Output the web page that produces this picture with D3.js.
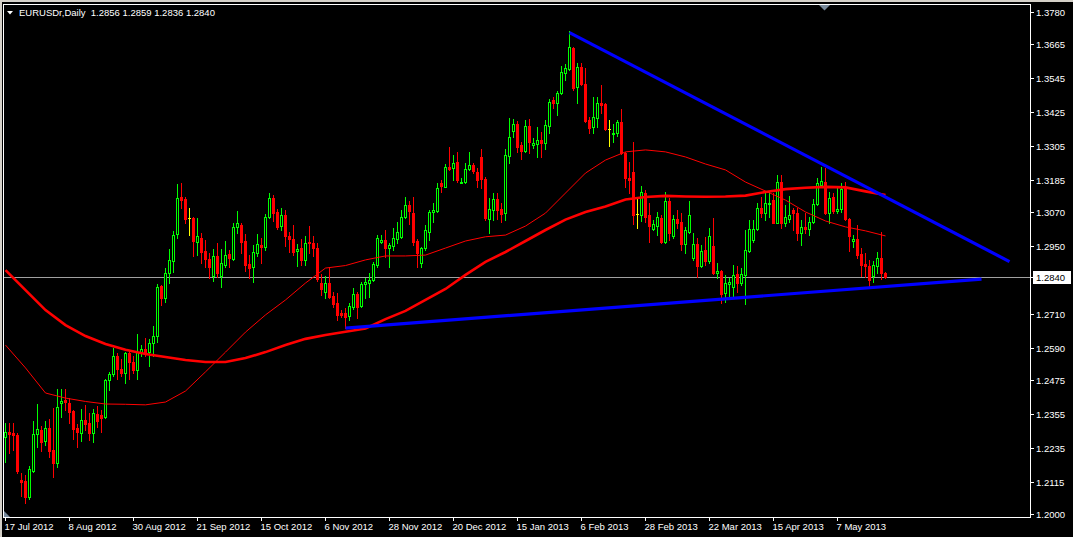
<!DOCTYPE html>
<html><head><meta charset="utf-8">
<script src="https://cdn.jsdelivr.net/npm/d3@7/dist/d3.min.js"></script>
<style>
html,body{margin:0;padding:0;background:#000;}
svg{display:block;}
text{font-family:"Liberation Sans",Arial,sans-serif;}
</style></head>
<body>
<svg id="chart" width="1073" height="537"></svg>
<script>
// ---------- DATA ----------
const symbolTitle = "EURUSDr,Daily";
const openPrices = [1.2272,1.2292,1.2286,1.2280,1.2121,1.2117,1.2061,1.2154,1.2283,1.2298,1.2259,1.2304,1.2227,1.2180,1.2395,1.2404,1.2395,1.2365,1.2304,1.2288,1.2332,1.2322,1.2288,1.2355,1.2351,1.2345,1.2475,1.2495,1.2560,1.2515,1.2500,1.2570,1.2540,1.2510,1.2575,1.2585,1.2575,1.2605,1.2630,1.2809,1.2765,1.2854,1.2898,1.2992,1.3123,1.3116,1.3048,1.3048,1.2966,1.2978,1.2933,1.2903,1.2844,1.2915,1.2844,1.2883,1.2922,1.2903,1.3019,1.3025,1.2968,1.2885,1.2875,1.2927,1.2954,1.2946,1.3054,1.3120,1.3072,1.3021,1.3060,1.2986,1.2975,1.2933,1.2942,1.2901,1.2966,1.2962,1.2942,1.2818,1.2788,1.2818,1.2773,1.2747,1.2712,1.2712,1.2703,1.2735,1.2780,1.2738,1.2816,1.2818,1.2830,1.2883,1.2966,1.2972,1.2944,1.2950,1.2974,1.2983,1.3054,1.3095,1.3066,1.2969,1.2889,1.2942,1.3001,1.3072,1.3076,1.3173,1.3161,1.3232,1.3226,1.3249,1.3173,1.3178,1.3222,1.3238,1.3214,1.3267,1.3187,1.3047,1.3078,1.3117,1.3080,1.3066,1.3270,1.3359,1.3383,1.3309,1.3288,1.3376,1.3309,1.3312,1.3326,1.3317,1.3376,1.3468,1.3456,1.3492,1.3565,1.3577,1.3651,1.3515,1.3584,1.3525,1.3397,1.3371,1.3405,1.3456,1.3454,1.3365,1.3348,1.3352,1.3389,1.3279,1.3190,1.3214,1.3063,1.3060,1.3137,1.3060,1.3011,1.3021,1.3049,1.2966,1.3111,1.2986,1.3045,1.3037,1.2957,1.3001,1.2907,1.2957,1.2880,1.2936,1.2898,1.2950,1.2854,1.2862,1.2783,1.2815,1.2806,1.2851,1.2820,1.2848,1.2934,1.2972,1.3010,1.3084,1.3068,1.3099,1.3113,1.3033,1.3178,1.3031,1.3045,1.3078,1.3066,1.2996,1.3017,1.3010,1.3037,1.3099,1.3167,1.3178,1.3066,1.3125,1.3076,1.3080,1.3161,1.3045,1.2969,1.2974,1.2921,1.2887,1.2879,1.2844,1.2879,1.2907,1.2856];
const highPrices = [1.2322,1.2322,1.2324,1.2286,1.2144,1.2138,1.2170,1.2330,1.2390,1.2312,1.2330,1.2336,1.2375,1.2442,1.2442,1.2442,1.2410,1.2369,1.2319,1.2371,1.2387,1.2357,1.2371,1.2383,1.2369,1.2480,1.2505,1.2590,1.2570,1.2550,1.2575,1.2580,1.2560,1.2640,1.2600,1.2625,1.2620,1.2665,1.2815,1.2812,1.2871,1.2940,1.3004,1.3170,1.3173,1.3123,1.3084,1.3054,1.3048,1.2998,1.2972,1.2924,1.2940,1.2960,1.2940,1.2968,1.2936,1.3033,1.3074,1.3033,1.2993,1.2918,1.2954,1.2993,1.2978,1.3063,1.3139,1.3131,1.3080,1.3084,1.3078,1.3001,1.3025,1.2957,1.2975,1.2986,1.3021,1.2986,1.2962,1.2850,1.2844,1.2877,1.2788,1.2783,1.2723,1.2729,1.2749,1.2800,1.2788,1.2824,1.2836,1.2854,1.2895,1.2989,1.2989,1.3007,1.2960,1.3013,1.3037,1.3078,1.3125,1.3110,1.3125,1.2975,1.2948,1.3025,1.3078,1.3103,1.3173,1.3184,1.3241,1.3300,1.3273,1.3284,1.3190,1.3246,1.3285,1.3244,1.3226,1.3293,1.3196,1.3120,1.3137,1.3137,1.3102,1.3293,1.3403,1.3400,1.3395,1.3320,1.3397,1.3400,1.3332,1.3371,1.3356,1.3397,1.3471,1.3478,1.3501,1.3589,1.3596,1.3711,1.3657,1.3600,1.3600,1.3581,1.3409,1.3478,1.3478,1.3521,1.3456,1.3397,1.3383,1.3397,1.3435,1.3285,1.3249,1.3320,1.3125,1.3163,1.3149,1.3102,1.3043,1.3072,1.3060,1.3143,1.3120,1.3060,1.3078,1.3066,1.3019,1.3111,1.2995,1.2978,1.2954,1.2981,1.3013,1.3049,1.2891,1.2865,1.2848,1.2836,1.2883,1.2879,1.2871,1.3007,1.3043,1.3043,1.3102,1.3125,1.3137,1.3143,1.3137,1.3202,1.3202,1.3096,1.3128,1.3084,1.3084,1.3043,1.3066,1.3054,1.3116,1.3190,1.3232,1.3226,1.3143,1.3137,1.3155,1.3173,1.3176,1.3049,1.2989,1.3025,1.2942,1.2927,1.2901,1.2898,1.2930,1.3001,1.2859];
const lowPrices = [1.2185,1.2215,1.2227,1.2144,1.2064,1.2040,1.2052,1.2150,1.2239,1.2224,1.2245,1.2201,1.2132,1.2166,1.2343,1.2369,1.2324,1.2265,1.2239,1.2260,1.2298,1.2262,1.2256,1.2310,1.2292,1.2340,1.2440,1.2490,1.2480,1.2490,1.2466,1.2480,1.2500,1.2480,1.2560,1.2560,1.2525,1.2560,1.2610,1.2740,1.2750,1.2818,1.2859,1.2980,1.3084,1.3031,1.2989,1.2916,1.2918,1.2891,1.2877,1.2836,1.2827,1.2841,1.2804,1.2877,1.2877,1.2901,1.2995,1.2924,1.2862,1.2836,1.2824,1.2915,1.2891,1.2936,1.3049,1.3040,1.3010,1.3007,1.2951,1.2930,1.2918,1.2879,1.2883,1.2883,1.2924,1.2916,1.2826,1.2775,1.2765,1.2765,1.2735,1.2688,1.2700,1.2659,1.2688,1.2726,1.2694,1.2735,1.2765,1.2770,1.2827,1.2877,1.2960,1.2912,1.2877,1.2936,1.2960,1.2978,1.3049,1.3030,1.2954,1.2877,1.2877,1.2936,1.2972,1.3037,1.3072,1.3143,1.3161,1.3220,1.3184,1.3178,1.3173,1.3173,1.3220,1.3208,1.3161,1.3155,1.3043,1.2998,1.3043,1.3046,1.3037,1.3043,1.3246,1.3336,1.3285,1.3258,1.3285,1.3281,1.3297,1.3267,1.3265,1.3293,1.3350,1.3439,1.3415,1.3489,1.3539,1.3574,1.3504,1.3459,1.3521,1.3391,1.3352,1.3352,1.3373,1.3421,1.3362,1.3305,1.3320,1.3340,1.3277,1.3161,1.3139,1.3028,1.3015,1.3039,1.3037,1.2966,1.3007,1.2989,1.2960,1.2960,1.2972,1.2978,1.3013,1.2936,1.2924,1.2995,1.2901,1.2841,1.2877,1.2883,1.2889,1.2851,1.2836,1.2749,1.2753,1.2771,1.2771,1.2788,1.2812,1.2745,1.2930,1.2966,1.3007,1.3054,1.3043,1.3054,1.3031,1.3031,1.3013,1.3022,1.3037,1.3007,1.2972,1.2954,1.2995,1.2989,1.3031,1.3096,1.3161,1.3064,1.3031,1.3066,1.3066,1.3072,1.3043,1.2934,1.2948,1.2907,1.2844,1.2841,1.2804,1.2824,1.2856,1.2832,1.2836];
const closePrices = [1.2292,1.2283,1.2281,1.2154,1.2115,1.2059,1.2159,1.2284,1.2300,1.2256,1.2304,1.2223,1.2180,1.2381,1.2401,1.2396,1.2363,1.2301,1.2292,1.2333,1.2320,1.2288,1.2357,1.2331,1.2341,1.2475,1.2495,1.2560,1.2515,1.2500,1.2570,1.2540,1.2510,1.2575,1.2585,1.2575,1.2605,1.2630,1.2806,1.2765,1.2854,1.2901,1.2989,1.3120,1.3113,1.3047,1.3048,1.2969,1.2986,1.2930,1.2903,1.2875,1.2915,1.2854,1.2889,1.2918,1.2907,1.3017,1.3031,1.2966,1.2883,1.2873,1.2928,1.2957,1.2947,1.3052,1.3120,1.3066,1.3019,1.3060,1.2987,1.2974,1.2930,1.2940,1.2901,1.2960,1.2960,1.2942,1.2832,1.2797,1.2818,1.2771,1.2745,1.2706,1.2706,1.2700,1.2738,1.2780,1.2735,1.2816,1.2824,1.2830,1.2885,1.2978,1.2972,1.2942,1.2954,1.2978,1.3001,1.3054,1.3096,1.3075,1.2966,1.2927,1.2942,1.3007,1.3072,1.3078,1.3155,1.3164,1.3229,1.3223,1.3244,1.3184,1.3178,1.3222,1.3237,1.3217,1.3184,1.3187,1.3050,1.3080,1.3117,1.3078,1.3064,1.3273,1.3336,1.3383,1.3303,1.3288,1.3376,1.3320,1.3317,1.3326,1.3317,1.3379,1.3462,1.3456,1.3492,1.3568,1.3580,1.3657,1.3510,1.3586,1.3524,1.3395,1.3368,1.3407,1.3456,1.3450,1.3364,1.3365,1.3350,1.3389,1.3279,1.3190,1.3184,1.3060,1.3063,1.3143,1.3054,1.3021,1.3028,1.3052,1.2966,1.3111,1.2998,1.3045,1.3033,1.2957,1.3007,1.3060,1.2957,1.2879,1.2934,1.2898,1.2986,1.2854,1.2862,1.2779,1.2818,1.2824,1.2848,1.2820,1.2851,1.2936,1.3010,1.3010,1.3084,1.3068,1.3102,1.3104,1.3033,1.3176,1.3031,1.3052,1.3060,1.3066,1.2998,1.3017,1.3010,1.3037,1.3099,1.3173,1.3181,1.3066,1.3120,1.3076,1.3080,1.3151,1.3045,1.2984,1.2974,1.2918,1.2883,1.2879,1.2830,1.2883,1.2907,1.2856,1.2840];

const maIndex = [0,5,10,15,20,25,30,35,40,45,50,55,60,65,70,75,80,85,90,95,100,105,110,115,120,125,130,135,140,145,150,155,160,165,170,175,180,185,190,195,200,205,210,215,220];
const maFast = [1.2599,1.2518,1.2429,1.2411,1.2399,1.2390,1.2389,1.2387,1.2397,1.2436,1.2504,1.2574,1.2645,1.2706,1.2759,1.2819,1.2872,1.2881,1.2901,1.2915,1.2915,1.2918,1.2943,1.2968,1.2983,1.2989,1.3021,1.3067,1.3138,1.3209,1.3255,1.3284,1.3291,1.3284,1.3266,1.3241,1.3220,1.3177,1.3145,1.3113,1.3071,1.3039,1.3018,1.3004,1.2986];
const maSlow = [1.2865,1.2794,1.2723,1.2670,1.2631,1.2603,1.2582,1.2567,1.2557,1.2546,1.2539,1.2539,1.2553,1.2574,1.2599,1.2621,1.2635,1.2646,1.2658,1.2691,1.2720,1.2759,1.2798,1.2848,1.2894,1.2929,1.2968,1.3007,1.3044,1.3071,1.3090,1.3115,1.3124,1.3128,1.3126,1.3125,1.3126,1.3129,1.3142,1.3152,1.3157,1.3160,1.3158,1.3144,1.3131];

// trend lines: [barIndex, price]
const trendUpper = [[141,1.3707],[251,1.2895]];
const trendLower = [[85,1.2659],[244,1.2833]];

const yTickValues = [1.3780,1.3665,1.3545,1.3425,1.3305,1.3185,1.3070,1.2950,1.2710,1.2590,1.2475,1.2355,1.2235,1.2115,1.2000];
const xTickIndex = [0,16,32,48,64,80,96,112,128,144,160,176,192,208];
const xTickLabels = ["17 Jul 2012","8 Aug 2012","30 Aug 2012","21 Sep 2012","15 Oct 2012","6 Nov 2012","28 Nov 2012","20 Dec 2012","15 Jan 2013","6 Feb 2013","28 Feb 2013","22 Mar 2013","15 Apr 2013","7 May 2013"];

// ---------- DRAW ----------
const svg = d3.select("#chart");
const W = 1073, H = 537;
const pL = 3, pR = 1030, pT = 4, pB = 517;

svg.append("rect").attr("width",W).attr("height",H).attr("fill","#000");
svg.append("rect").attr("x",0).attr("y",0).attr("width",W).attr("height",2).attr("fill","#d4d0c8");
svg.append("rect").attr("x",0).attr("y",0).attr("width",2).attr("height",H).attr("fill","#d4d0c8");

const x = d3.scaleLinear().domain([0, 256]).range([5, 5 + 4*256]);
const y = d3.scaleLinear().domain([1.2000, 1.3780]).range([514, 12]);

const plot = svg.append("g");
plot.append("clipPath").attr("id","clip").append("rect")
  .attr("x",pL+1).attr("y",pT+1).attr("width",pR-pL-1).attr("height",pB-pT-1);
const g = plot.append("g").attr("clip-path","url(#clip)").attr("shape-rendering","crispEdges");

const last = closePrices[closePrices.length-1];
g.append("line").attr("x1",pL).attr("x2",pR)
  .attr("y1",Math.round(y(last))+0.5).attr("y2",Math.round(y(last))+0.5)
  .attr("stroke","#a0a0a0").attr("stroke-width",1);

const bars = d3.range(openPrices.length).map(i => ({i, o:openPrices[i], h:highPrices[i], l:lowPrices[i], c:closePrices[i]}));
const cg = g.append("g");
bars.forEach(d => {
  const cx = Math.round(x(d.i));
  const doji = d.o === d.c;
  const bull = d.c > d.o;
  const col = doji ? "#ffff00" : (bull ? "#00ff00" : "#ff0000");
  const yh = Math.round(y(d.h)), yl = Math.round(y(d.l));
  cg.append("rect").attr("x",cx).attr("y",yh).attr("width",1).attr("height",Math.max(1,yl-yh+1)).attr("fill",col);
  const yt = Math.round(y(Math.max(d.o,d.c))), yb = Math.round(y(Math.min(d.o,d.c)));
  const hgt = Math.max(1, yb-yt+1);
  cg.append("rect").attr("x",cx-1).attr("y",yt).attr("width",3).attr("height",hgt).attr("fill",col);
  if (bull && hgt > 2) {
    cg.append("rect").attr("x",cx).attr("y",yt+1).attr("width",1).attr("height",hgt-2).attr("fill","#000");
  }
});

const line = d3.line().x(d => x(d[0]) + 0.5).y(d => y(d[1]));
const lg = plot.append("g").attr("clip-path","url(#clip)");
lg.append("path").datum(maIndex.map((k,j)=>[k,maSlow[j]]))
  .attr("d",line).attr("fill","none").attr("stroke","#ff0000").attr("stroke-width",2.6);
lg.append("path").datum(maIndex.map((k,j)=>[k,maFast[j]]))
  .attr("d",line).attr("fill","none").attr("stroke","#ff0000").attr("stroke-width",1);

[trendUpper, trendLower].forEach(t => {
  lg.append("path").datum(t).attr("d",line).attr("fill","none")
    .attr("stroke","#0000ff").attr("stroke-width",3.2);
});

svg.append("rect").attr("x",pL+0.5).attr("y",pT+0.5).attr("width",pR-pL).attr("height",pB-pT)
  .attr("fill","none").attr("stroke","#ffffff").attr("stroke-width",1).attr("shape-rendering","crispEdges");

svg.append("path").attr("d","M819,5 L830,5 L824.5,10.5 Z").attr("fill","#778899");
svg.append("path").attr("d","M4,511 L4,517 L10,517 Z").attr("fill","#778899");

const ya = svg.append("g");
yTickValues.forEach(v => {
  const yy = Math.round(y(v)) + 0.5;
  ya.append("line").attr("x1",pR).attr("x2",pR+4).attr("y1",yy).attr("y2",yy)
    .attr("stroke","#fff").attr("shape-rendering","crispEdges");
  ya.append("text").attr("x",1036).attr("y",yy+3.5).attr("fill","#fff")
    .attr("font-size","9.5px").text(v.toFixed(4));
});
{
  const yy = Math.round(y(last)) + 0.5;
  ya.append("line").attr("x1",pR).attr("x2",pR+4).attr("y1",yy).attr("y2",yy)
    .attr("stroke","#fff").attr("shape-rendering","crispEdges");
  ya.append("rect").attr("x",1033).attr("y",yy-6.5).attr("width",38).attr("height",13).attr("fill","#fff");
  ya.append("text").attr("x",1036).attr("y",yy+3.5).attr("fill","#000")
    .attr("font-size","9.5px").text(last.toFixed(4));
}

const xa = svg.append("g");
xTickIndex.forEach((k,j) => {
  const xx = Math.round(x(k)) + 0.5;
  xa.append("line").attr("x1",xx).attr("x2",xx).attr("y1",pB).attr("y2",pB+4)
    .attr("stroke","#fff").attr("shape-rendering","crispEdges");
  xa.append("text").attr("x",xx-1).attr("y",529.5).attr("fill","#fff")
    .attr("font-size","9.5px").text(xTickLabels[j]);
});

svg.append("path").attr("d","M7,11 L13,11 L10,14.5 Z").attr("fill","#fff");
svg.append("text").attr("x",19).attr("y",16).attr("fill","#fff").attr("font-size","9.5px")
  .attr("xml:space","preserve")
  .text(symbolTitle + "  " + [openPrices, highPrices, lowPrices, closePrices].map(a => a[a.length-1].toFixed(4)).join(" "));
</script>
</body></html>
